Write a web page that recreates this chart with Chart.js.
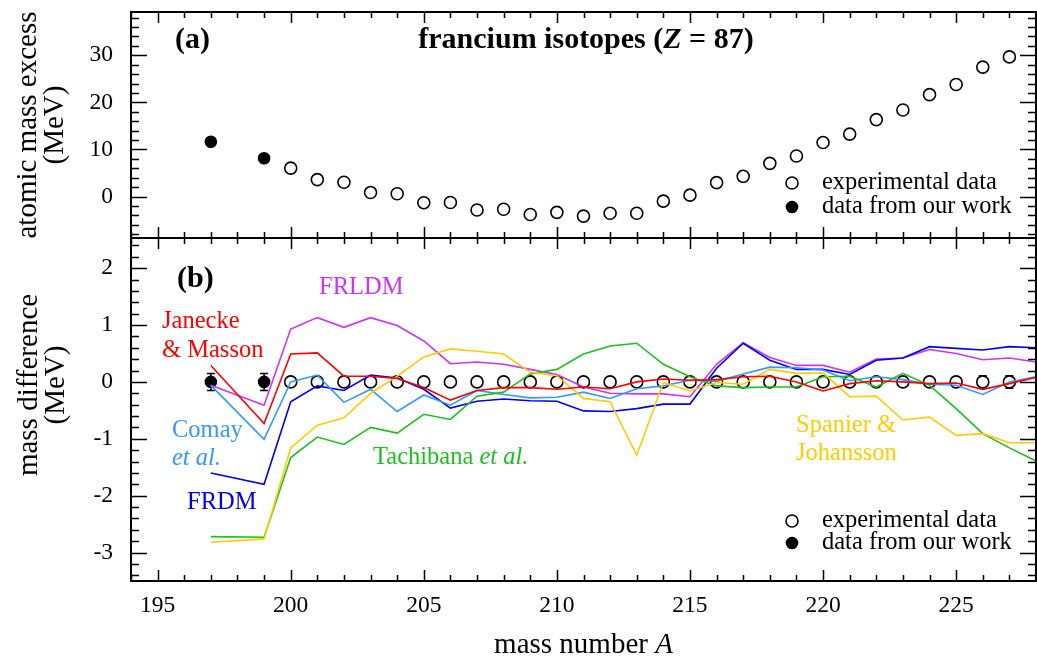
<!DOCTYPE html>
<html>
<head>
<meta charset="utf-8">
<title>francium isotopes</title>
<script src="https://cdn.jsdelivr.net/npm/chart.js@4.4.1/dist/chart.umd.min.js"></script>
<style>
  html, body { margin: 0; padding: 0; background: #fff; }
  #wrap { position: relative; width: 1037px; height: 661px; }
  #wrap canvas { position: absolute; left: 0; top: 0; }
</style>
</head>
<body>
<div id="wrap">
  <canvas id="diffChart" width="1037" height="661"></canvas>
  <canvas id="excessChart" width="1037" height="240"></canvas>
</div>
<script>
// --- data -------------------------------------------------------------
// isotopes measured in this work
const ourA = [197, 199];
const ourExcess = [11.65, 8.13];
const ourErr = [0.15, 0.15];

// isotopes from the mass evaluation
const expA = [200, 201, 202, 203, 204, 205, 206, 207, 208, 209, 210, 211, 212, 213,
              214, 215, 216, 217, 218, 219, 220, 221, 222, 223, 224, 225, 226, 227];
const expExcess = [6.05, 3.6, 3.05, 0.85, 0.6, -1.3, -1.25, -2.85, -2.7, -3.8, -3.35, -4.15, -3.55, -3.55,
                   -0.97, 0.3, 2.97, 4.3, 7.05, 8.62, 11.47, 13.27, 16.35, 18.38, 21.65, 23.8, 27.5, 29.66];
const expErr = [0, 0, 0, 0, 0, 0, 0, 0, 0, 0, 0, 0, 0, 0,
                0, 0, 0, 0, 0, 0, 0, 0, 0, 0, 0, 0, 0.11, 0.11];

// model minus measured mass (MeV)
const modelA = [197, 199, 200, 201, 202, 203, 204, 205, 206, 207, 208, 209, 210, 211, 212,
                213, 214, 215, 216, 217, 218, 219, 220, 221, 222, 223, 224, 225, 226, 227, 228];
const frldm = [-0.06, -0.41, 0.93, 1.13, 0.96, 1.13, 0.99, 0.72, 0.32, 0.35, 0.31, 0.22, 0.13, -0.09, -0.2,
               -0.21, -0.21, -0.26, 0.31, 0.69, 0.43, 0.29, 0.29, 0.17, 0.4, 0.42, 0.57, 0.5, 0.39, 0.42, 0.35];
const janecke = [0.29, -0.73, 0.49, 0.51, 0.1, 0.1, 0.06, -0.1, -0.32, -0.15, -0.1, -0.1, -0.13, -0.09, -0.12,
                 0.0, 0.05, 0.03, 0.04, 0.09, 0.1, 0.0, -0.16, -0.03, 0.02, 0.0, -0.03, -0.02, -0.13, -0.03, 0.08];
const comay = [-0.06, -1.01, 0.0, 0.12, -0.36, -0.13, -0.52, -0.23, -0.41, -0.15, -0.22, -0.28, -0.27, -0.18, -0.29,
               -0.12, -0.07, 0.03, 0.01, 0.14, 0.26, 0.25, 0.21, 0.02, 0.09, 0.04, -0.04, -0.06, -0.22, 0.0, 0.09];
const frdm = [-1.6, -1.8, -0.35, -0.07, -0.15, 0.12, 0.07, -0.13, -0.46, -0.34, -0.3, -0.33, -0.34, -0.51, -0.52,
              -0.47, -0.39, -0.39, 0.24, 0.68, 0.38, 0.22, 0.22, 0.13, 0.38, 0.42, 0.62, 0.59, 0.56, 0.62, 0.6];
const tachibana = [-2.72, -2.73, -1.33, -0.97, -1.1, -0.8, -0.9, -0.57, -0.66, -0.25, -0.18, 0.14, 0.22, 0.49, 0.63,
                   0.68, 0.31, 0.09, -0.07, -0.1, -0.09, -0.09, 0.09, 0.1, -0.09, 0.15, -0.06, -0.47, -0.91, -1.16, -1.39];
const spanier = [-2.82, -2.76, -1.16, -0.76, -0.63, -0.2, 0.1, 0.44, 0.58, 0.54, 0.49, 0.17, 0.11, -0.29, -0.35,
                 -1.29, -0.01, -0.16, -0.01, -0.04, 0.22, 0.15, 0.16, -0.26, -0.25, -0.67, -0.62, -0.94, -0.91, -1.07, -1.07];

// axis ticks
const xTicks = [195, 200, 205, 210, 215, 220, 225];
const excessTicks = [0, 10, 20, 30];
const diffTicks = [-3, -2, -1, 0, 1, 2];

// --- helpers ----------------------------------------------------------
const SERIF = "'Liberation Serif', 'Times New Roman', serif";
const COLORS = {
  frldm: '#cc33ff', janecke: '#ff0000', comay: '#3399ff',
  frdm: '#0000ee', tachibana: '#1cc01c', spanier: '#ffcc00'
};

const pts = (xs, ys) => xs.map((x, i) => ({ x: x, y: ys[i] }));

// keep the plot frame exactly where the layout padding puts it
function fitY(scale) {
  scale.width = 131;
  scale.paddingTop = 0;
  scale.paddingBottom = 0;
}
function fitX(scale) {
  scale.height = 80;
  scale.paddingLeft = 0;
  scale.paddingRight = 0;
}

function drawRich(ctx, parts, x, y, size, color, align) {
  ctx.textBaseline = 'middle';
  ctx.textAlign = 'left';
  ctx.fillStyle = color;
  const fonts = parts.map(p => (p[1] ? p[1] + ' ' : '') + size + 'px ' + SERIF);
  const widths = parts.map((p, i) => { ctx.font = fonts[i]; return ctx.measureText(p[0]).width; });
  const total = widths.reduce((a, b) => a + b, 0);
  let cx = align === 'center' ? x - total / 2 : x;
  parts.forEach((p, i) => {
    ctx.font = fonts[i];
    ctx.fillText(p[0], cx, y);
    cx += widths[i];
  });
}

function marker(ctx, x, y, filled) {
  ctx.beginPath();
  ctx.arc(x, y, filled ? 5.5 : 6, 0, Math.PI * 2);
  ctx.fillStyle = filled ? '#000' : '#fff';
  ctx.fill();
  ctx.lineWidth = 1.6;
  ctx.strokeStyle = '#000';
  ctx.stroke();
}

// frame, inward tick marks, error bars, labels and legend
const panelDeco = {
  id: 'panelDeco',
  beforeDatasetsDraw(chart) {
    const { ctx, scales: { x, y } } = chart;
    ctx.save();
    ctx.strokeStyle = '#000';
    ctx.lineWidth = 1.5;
    chart.data.datasets.forEach(ds => {
      if (!ds.errors) return;
      ds.data.forEach((p, i) => {
        const e = ds.errors[i];
        if (!e) return;
        const px = x.getPixelForValue(p.x);
        const y1 = y.getPixelForValue(p.y + e);
        const y2 = y.getPixelForValue(p.y - e);
        ctx.beginPath();
        ctx.moveTo(px, y1); ctx.lineTo(px, y2);
        ctx.moveTo(px - 4, y1); ctx.lineTo(px + 4, y1);
        ctx.moveTo(px - 4, y2); ctx.lineTo(px + 4, y2);
        ctx.stroke();
      });
    });
    ctx.restore();
  },
  afterDraw(chart, args, opts) {
    const { ctx, chartArea: a, scales: { x, y } } = chart;
    ctx.save();
    ctx.strokeStyle = '#000';
    ctx.lineWidth = 1.5;
    ctx.beginPath();
    for (let v = Math.ceil(x.min); v <= x.max; v++) {
      const px = Math.round(x.getPixelForValue(v)) + 0.5;
      const len = v % 5 === 0 ? 11 : 6;
      ctx.moveTo(px, a.top); ctx.lineTo(px, a.top + len);
      ctx.moveTo(px, a.bottom); ctx.lineTo(px, a.bottom - len);
    }
    const k0 = Math.ceil(y.min / opts.minor - 1e-6);
    const k1 = Math.floor(y.max / opts.minor + 1e-6);
    for (let k = k0; k <= k1; k++) {
      const v = k * opts.minor;
      const r = v / opts.major;
      const len = Math.abs(r - Math.round(r)) < 1e-6 ? 16 : 8;
      const py = Math.round(y.getPixelForValue(v)) + 0.5;
      ctx.moveTo(a.left, py); ctx.lineTo(a.left + len, py);
      ctx.moveTo(a.right, py); ctx.lineTo(a.right - len, py);
    }
    ctx.stroke();
    ctx.lineWidth = 2;
    ctx.strokeRect(a.left, a.top, a.right - a.left, a.bottom - a.top);

    opts.labels.forEach(l => drawRich(ctx, l.parts, l.x, l.y, l.size, l.color, l.align));

    // legend
    marker(ctx, opts.legendX, opts.legendY[0], false);
    marker(ctx, opts.legendX, opts.legendY[1], true);
    drawRich(ctx, [['experimental data', '']], opts.legendX + 30, opts.legendY[0], 24.5, '#000');
    drawRich(ctx, [['data from our work', '']], opts.legendX + 30, opts.legendY[1], 24.5, '#000');

    // rotated two-line y title
    if (opts.yTitle) {
      const t = opts.yTitle;
      ctx.save();
      ctx.translate(t.x, t.y);
      ctx.rotate(-Math.PI / 2);
      t.lines.forEach((line, i) => drawRich(ctx, [[line, '']], 0, i * 27, 29, '#000', 'center'));
      ctx.restore();
    }

    if (opts.xTitle) {
      drawRich(ctx, [['mass number ', ''], ['A', 'italic']], (a.left + a.right) / 2, 645, 29, '#000', 'center');
    }
    ctx.restore();
  }
};

const tickFont = { family: SERIF, size: 23.5 };
const titleFont = { family: SERIF, size: 29, lineHeight: '27px' };

const openPoint = {
  pointStyle: 'circle', pointRadius: 6, pointBorderWidth: 1.6,
  pointBackgroundColor: '#fff', pointBorderColor: '#000', showLine: false
};
const filledPoint = {
  pointStyle: 'circle', pointRadius: 5.5, pointBorderWidth: 1.6,
  pointBackgroundColor: '#000', pointBorderColor: '#000', showLine: false
};

function modelLine(label, values, color, order) {
  return {
    label: label, data: pts(modelA, values), showLine: true,
    borderColor: color, borderWidth: 1.6, pointRadius: 0, tension: 0, order: order
  };
}

const commonOpts = {
  responsive: false,
  animation: false,
  events: [],
  plugins: { legend: { display: false }, tooltip: { enabled: false } }
};

// --- (a) atomic mass excess -------------------------------------------
new Chart(document.getElementById('excessChart'), {
  type: 'scatter',
  data: {
    datasets: [
      Object.assign({ label: 'experimental data', data: pts(expA, expExcess) }, openPoint),
      Object.assign({ label: 'data from our work', data: pts(ourA, ourExcess) }, filledPoint)
    ]
  },
  options: Object.assign({}, commonOpts, {
    layout: { autoPadding: false, padding: { top: 12, bottom: 2, left: 0, right: 1 } },
    scales: {
      x: { type: 'linear', min: 194, max: 228, display: false },
      y: {
        type: 'linear', min: -8.8, max: 39.2,
        afterBuildTicks: s => { s.ticks = excessTicks.map(v => ({ value: v })); },
        afterFit: fitY,
        grid: { display: false, drawTicks: false },
        border: { display: false },
        ticks: { padding: 18, color: '#000', font: tickFont },
        title: { display: true, text: ['atomic mass excess', '(MeV)'], color: '#000', font: titleFont, padding: { top: 15, bottom: 0 } }
      }
    },
    plugins: Object.assign({}, commonOpts.plugins, {
      panelDeco: {
        minor: 2, major: 10,
        legendX: 792, legendY: [183, 207],
        labels: [
          { parts: [['(a)', 'bold']], x: 175, y: 40, size: 30, color: '#000' },
          { parts: [['francium isotopes (', 'bold'], ['Z', 'bold italic'], [' = 87)', 'bold']], x: 586, y: 40, size: 30, color: '#000', align: 'center' }
        ]
      }
    })
  }),
  plugins: [panelDeco]
});

// --- (b) model minus experiment ---------------------------------------
new Chart(document.getElementById('diffChart'), {
  type: 'scatter',
  data: {
    datasets: [
      Object.assign({ label: 'experimental data', data: pts(expA, expA.map(() => 0)), errors: expErr, order: 10 }, openPoint),
      Object.assign({ label: 'data from our work', data: pts(ourA, ourA.map(() => 0)), errors: ourErr, order: 9 }, filledPoint),
      modelLine('FRLDM', frldm, COLORS.frldm, 6),
      modelLine('Janecke & Masson', janecke, COLORS.janecke, 1),
      modelLine('Comay et al.', comay, COLORS.comay, 4),
      modelLine('FRDM', frdm, COLORS.frdm, 5),
      modelLine('Tachibana et al.', tachibana, COLORS.tachibana, 3),
      modelLine('Spanier & Johansson', spanier, COLORS.spanier, 2)
    ]
  },
  options: Object.assign({}, commonOpts, {
    layout: { autoPadding: false, padding: { top: 238, bottom: 0, left: 0, right: 1 } },
    scales: {
      x: {
        type: 'linear', min: 194, max: 228, position: 'bottom',
        afterBuildTicks: s => { s.ticks = xTicks.map(v => ({ value: v })); },
        afterFit: fitX,
        grid: { display: false, drawTicks: false },
        border: { display: false },
        ticks: { padding: 11, color: '#000', font: tickFont, maxRotation: 0 }
      },
      y: {
        type: 'linear', min: -3.5, max: 2.53,
        afterBuildTicks: s => { s.ticks = diffTicks.map(v => ({ value: v })); },
        afterFit: fitY,
        grid: { display: false, drawTicks: false },
        border: { display: false },
        ticks: { padding: 18, color: '#000', font: tickFont }
      }
    },
    plugins: Object.assign({}, commonOpts.plugins, {
      panelDeco: {
        minor: 0.2, major: 1,
        legendX: 792, legendY: [521, 543],
        xTitle: true,
        yTitle: { lines: ['mass difference', '(MeV)'], x: 29, y: 385 },
        labels: [
          { parts: [['(b)', 'bold']], x: 177, y: 279, size: 30, color: '#000' },
          { parts: [['FRLDM', '']], x: 319, y: 288, size: 24.5, color: COLORS.frldm },
          { parts: [['Janecke', '']], x: 162, y: 322, size: 24.5, color: COLORS.janecke },
          { parts: [['& Masson', '']], x: 162, y: 351, size: 24.5, color: COLORS.janecke },
          { parts: [['Comay', '']], x: 172, y: 431, size: 24.5, color: COLORS.comay },
          { parts: [['et al.', 'italic']], x: 172, y: 459, size: 24.5, color: COLORS.comay },
          { parts: [['FRDM', '']], x: 187, y: 503, size: 24.5, color: COLORS.frdm },
          { parts: [['Tachibana ', ''], ['et al.', 'italic']], x: 373, y: 458, size: 24.5, color: COLORS.tachibana },
          { parts: [['Spanier &', '']], x: 796, y: 426, size: 24.5, color: COLORS.spanier },
          { parts: [['Johansson', '']], x: 796, y: 454, size: 24.5, color: COLORS.spanier }
        ]
      }
    })
  }),
  plugins: [panelDeco]
});
</script>
</body>
</html>
